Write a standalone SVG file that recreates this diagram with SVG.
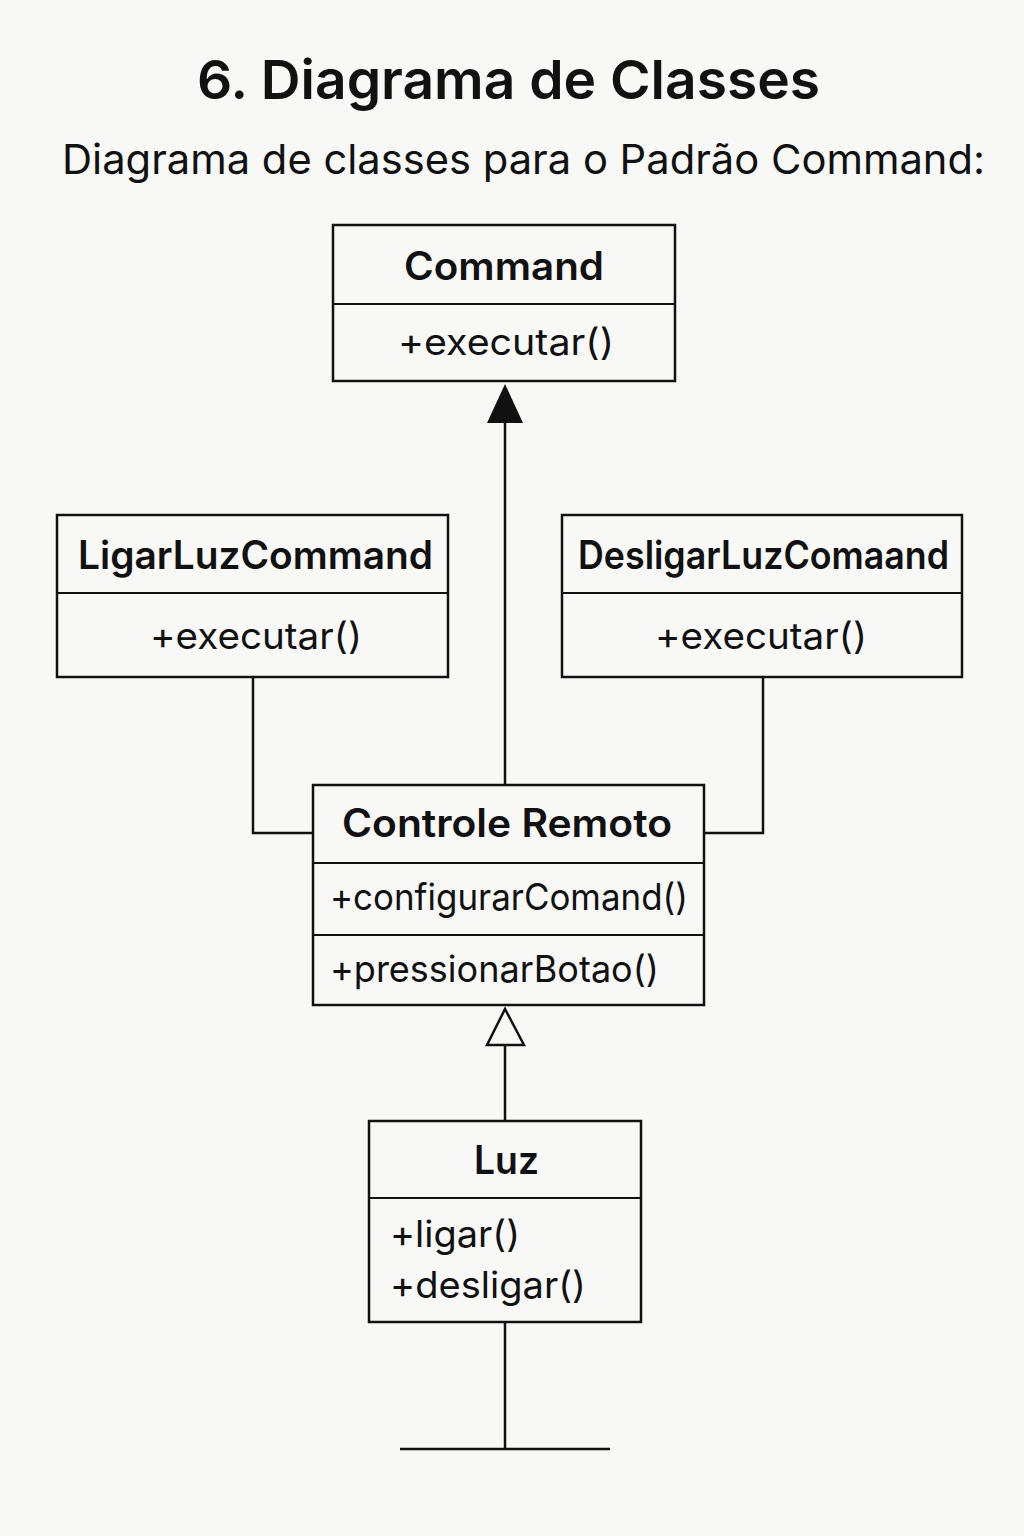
<svg xmlns="http://www.w3.org/2000/svg" width="1024" height="1536" viewBox="0 0 1024 1536">
<style>
  text { font-family: Inter, "Noto Sans", "Liberation Sans", sans-serif; fill: #111; }
  .box { fill: none; stroke: #111; stroke-width: 2.5; }
  .div { stroke: #111; stroke-width: 2; }
  .name { font-size: 39px; font-weight: 600; }
  .op { font-size: 37px; font-weight: 400; }
  .conn { fill: none; stroke: #111; stroke-width: 2.5; }
</style>
<rect width="1024" height="1536" fill="#f8f8f7"/>
<text x="197" y="99" font-size="54" font-weight="600" textLength="623" lengthAdjust="spacingAndGlyphs">6. Diagrama de Classes</text>
<text x="62" y="174" font-size="41" textLength="923" lengthAdjust="spacingAndGlyphs">Diagrama de classes para o Padrão Command:</text>

<g id="connectors">
  <line class="conn" x1="505" y1="420" x2="505" y2="785"/>
  <polygon points="505,384 487,423 523,423" fill="#111"/>
  <polyline class="conn" points="253,677 253,833 313,833"/>
  <polyline class="conn" points="763,677 763,833 704,833"/>
  <line class="conn" x1="505" y1="1045" x2="505" y2="1121"/>
  <polygon points="505,1009 487,1045 524,1045" fill="#f8f8f7" stroke="#111" stroke-width="2.5"/>
  <line class="conn" x1="505" y1="1322" x2="505" y2="1449"/>
  <line class="conn" x1="400" y1="1449" x2="610" y2="1449"/>
</g>

<g id="command">
  <rect class="box" x="333" y="225" width="342" height="156"/>
  <line class="div" x1="333" y1="304" x2="675" y2="304"/>
  <text class="name" x="404" y="280" font-size="40" textLength="200" lengthAdjust="spacingAndGlyphs">Command</text>
  <text class="op" x="398" y="355" textLength="216" lengthAdjust="spacingAndGlyphs">+executar()</text>
</g>

<g id="ligarluzcommand">
  <rect class="box" x="57" y="515" width="391" height="162"/>
  <line class="div" x1="57" y1="593" x2="448" y2="593"/>
  <text class="name" x="78" y="569" font-size="37" textLength="355" lengthAdjust="spacingAndGlyphs">LigarLuzCommand</text>
  <text class="op" x="150" y="649" textLength="212" lengthAdjust="spacingAndGlyphs">+executar()</text>
</g>

<g id="desligarluzcomaand">
  <rect class="box" x="562" y="515" width="400" height="162"/>
  <line class="div" x1="562" y1="593" x2="962" y2="593"/>
  <text class="name" x="578" y="569" font-size="36" textLength="371" lengthAdjust="spacingAndGlyphs">DesligarLuzComaand</text>
  <text class="op" x="655" y="649" textLength="212" lengthAdjust="spacingAndGlyphs">+executar()</text>
</g>

<g id="controleremoto">
  <rect class="box" x="313" y="785" width="391" height="220"/>
  <line class="div" x1="313" y1="863" x2="704" y2="863"/>
  <line class="div" x1="313" y1="935" x2="704" y2="935"/>
  <text class="name" x="342" y="837" font-size="40" textLength="330" lengthAdjust="spacingAndGlyphs">Controle Remoto</text>
  <text class="op" x="330" y="910" textLength="358" lengthAdjust="spacingAndGlyphs">+configurarComand()</text>
  <text class="op" x="330" y="982" textLength="329" lengthAdjust="spacingAndGlyphs">+pressionarBotao()</text>
</g>

<g id="luz">
  <rect class="box" x="369" y="1121" width="272" height="201"/>
  <line class="div" x1="369" y1="1198" x2="641" y2="1198"/>
  <text class="name" x="474" y="1174" font-size="40" textLength="65" lengthAdjust="spacingAndGlyphs">Luz</text>
  <text class="op" x="390" y="1247" textLength="130" lengthAdjust="spacingAndGlyphs">+ligar()</text>
  <text class="op" x="390" y="1298" textLength="196" lengthAdjust="spacingAndGlyphs">+desligar()</text>
</g>
</svg>
